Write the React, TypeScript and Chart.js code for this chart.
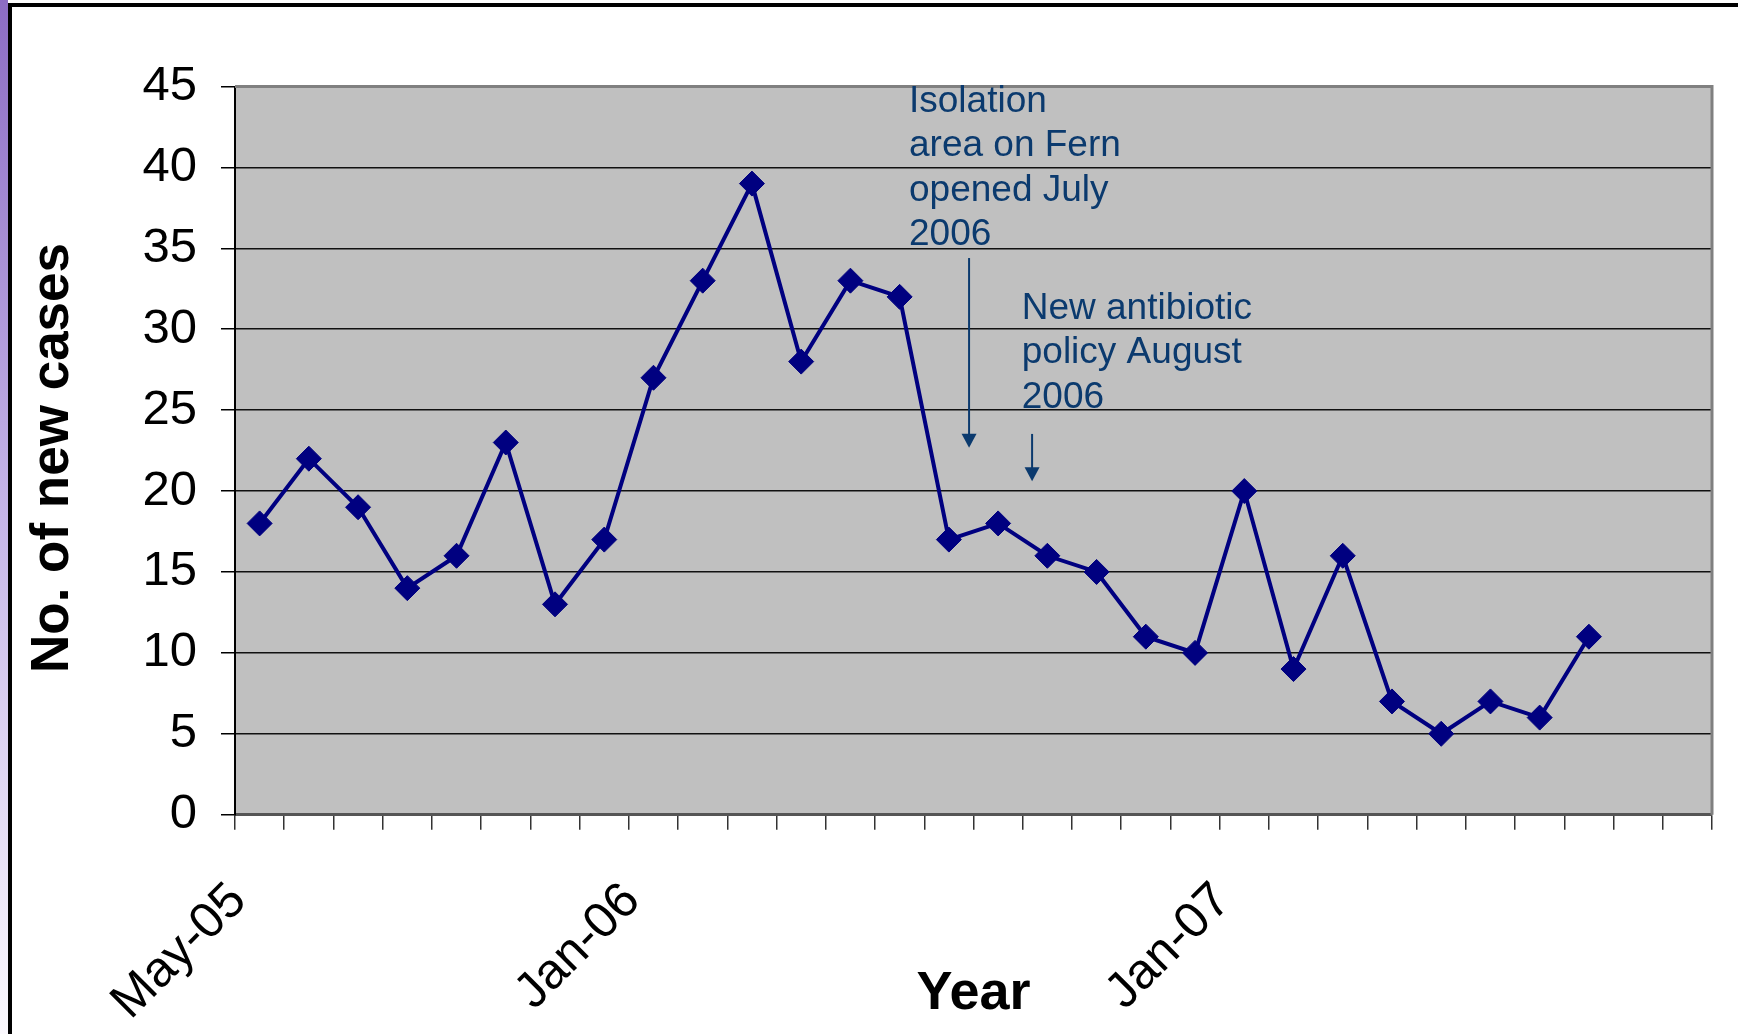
import React, { useEffect, useRef } from 'react';
import { Chart, registerables } from 'chart.js';

Chart.register(...registerables);

// ---- data ----
const months = [
  'May-05', 'Jun-05', 'Jul-05', 'Aug-05', 'Sep-05', 'Oct-05', 'Nov-05', 'Dec-05',
  'Jan-06', 'Feb-06', 'Mar-06', 'Apr-06', 'May-06', 'Jun-06', 'Jul-06', 'Aug-06',
  'Sep-06', 'Oct-06', 'Nov-06', 'Dec-06', 'Jan-07', 'Feb-07', 'Mar-07', 'Apr-07',
  'May-07', 'Jun-07', 'Jul-07', 'Aug-07', 'Sep-07', 'Oct-07',
];
const shownMonthLabels = ['May-05', 'Jan-06', 'Jan-07'];
const newCases = [
  18, 22, 19, 14, 16, 23, 13, 17, 27, 33, 39, 28, 33, 32,
  17, 18, 16, 15, 11, 10, 20, 9, 16, 7, 5, 7, 6, 11,
];
const yMin = 0;
const yMax = 45;
const yStep = 5;

const isolationNote = ['Isolation', 'area on Fern', 'opened July', '2006'];
const antibioticNote = ['New antibiotic', 'policy August', '2006'];

// annotation anchors in data coordinates (category index, value)
const notes = [
  { lines: isolationNote, textX: 13.19, textY: 43.45, arrowX: 14.41, arrowFrom: 34.4, arrowTo: 22.67 },
  { lines: antibioticNote, textX: 15.48, textY: 30.64, arrowX: 15.69, arrowFrom: 23.53, arrowTo: 20.6 },
];

const FONT = "'Liberation Sans', Arial, Helvetica, sans-serif";
const W = 1738;
const H = 1034;
const PLOT_TOP = 86.5;
const PLOT_LEFT = 235;
const PLOT_RIGHT = 1712;
const PLOT_BOTTOM = 814.7;
const LEFT_PAD = 16;

const plotBackground = {
  id: 'plotBackground',
  beforeDraw(chart: any) {
    const { ctx, chartArea } = chart;
    ctx.save();
    ctx.fillStyle = '#C0C0C0';
    ctx.fillRect(chartArea.left, chartArea.top, chartArea.right - chartArea.left, chartArea.bottom - chartArea.top);
    ctx.restore();
  },
  beforeDatasetsDraw(chart: any) {
    const { ctx, chartArea } = chart;
    ctx.save();
    ctx.strokeStyle = '#808080';
    ctx.lineWidth = 3;
    ctx.beginPath();
    ctx.moveTo(chartArea.left, chartArea.top);
    ctx.lineTo(chartArea.right, chartArea.top);
    ctx.lineTo(chartArea.right, chartArea.bottom);
    ctx.stroke();
    ctx.restore();
  },
};

const notesPlugin = {
  id: 'notes',
  afterDraw(chart: any) {
    const { ctx } = chart;
    const xs = chart.scales.x;
    const ys = chart.scales.y;
    ctx.save();
    ctx.fillStyle = '#0B3A6E';
    ctx.strokeStyle = '#0B3A6E';
    ctx.font = `37px ${FONT}`;
    ctx.textAlign = 'left';
    ctx.textBaseline = 'alphabetic';
    notes.forEach((n) => {
      const tx = xs.getPixelForValue(n.textX);
      const ty = ys.getPixelForValue(n.textY);
      n.lines.forEach((line, i) => ctx.fillText(line, tx, ty + i * 44.5));
      const ax = xs.getPixelForValue(n.arrowX);
      const a1 = ys.getPixelForValue(n.arrowFrom);
      const a2 = ys.getPixelForValue(n.arrowTo);
      ctx.lineWidth = 2;
      ctx.beginPath();
      ctx.moveTo(ax, a1);
      ctx.lineTo(ax, a2 - 12);
      ctx.stroke();
      ctx.beginPath();
      ctx.moveTo(ax - 7.5, a2 - 14);
      ctx.lineTo(ax + 7.5, a2 - 14);
      ctx.lineTo(ax, a2);
      ctx.closePath();
      ctx.fill();
    });
    ctx.restore();
  },
};

function CasesChart() {
  const ref = useRef<HTMLCanvasElement | null>(null);
  useEffect(() => {
    if (!ref.current) return;
    const chart = new Chart(ref.current, {
      type: 'line',
      data: {
        labels: months,
        datasets: [
          {
            label: 'No. of new cases',
            data: newCases,
            borderColor: '#000080',
            backgroundColor: '#000080',
            borderWidth: 4,
            pointStyle: 'rectRot',
            pointRadius: 12.5,
            pointBackgroundColor: '#000080',
            pointBorderColor: '#000080',
            pointBorderWidth: 1,
            tension: 0,
            fill: false,
            clip: false as any,
          },
        ],
      },
      options: {
        responsive: false,
        animation: false,
        devicePixelRatio: 1,
        layout: { padding: { top: PLOT_TOP, right: W - PLOT_RIGHT, left: LEFT_PAD, bottom: 0 } },
        plugins: {
          legend: { display: false },
          tooltip: { enabled: false },
        },
        scales: {
          x: {
            type: 'category',
            offset: true,
            afterFit: (s: any) => {
              s.height = H - PLOT_BOTTOM;
              s.paddingLeft = 0;
              s.paddingRight = 0;
            },
            grid: {
              offset: true,
              drawOnChartArea: false,
              drawTicks: true,
              tickLength: 15,
              color: '#333333',
              lineWidth: 1.5,
            },
            border: { display: true, color: '#555555', width: 3 },
            ticks: {
              autoSkip: false,
              maxRotation: 45,
              minRotation: 45,
              padding: 42,
              labelOffset: -21,
              color: '#000000',
              font: { family: FONT, size: 50 },
              callback: (_v: any, i: number) => (shownMonthLabels.includes(months[i]) ? months[i] : ''),
            },
            title: {
              display: true,
              text: 'Year',
              color: '#000000',
              font: { family: FONT, size: 54, weight: 'bold' },
              padding: { top: 0, bottom: 7 },
            },
          },
          y: {
            min: yMin,
            max: yMax,
            afterFit: (s: any) => { s.width = PLOT_LEFT - LEFT_PAD; },
            grid: {
              color: '#111111',
              lineWidth: 1.5,
              tickLength: 14,
              tickColor: '#000000',
            },
            border: { display: true, color: '#000000', width: 2 },
            ticks: {
              stepSize: yStep,
              padding: 24,
              color: '#000000',
              font: { family: FONT, size: 49 },
            },
            title: {
              display: true,
              text: 'No. of new cases ',
              color: '#000000',
              font: { family: FONT, size: 53, weight: 'bold' },
              padding: { top: 5.5, bottom: 0 },
            },
          },
        },
      },
      plugins: [plotBackground, notesPlugin],
    });
    return () => chart.destroy();
  }, []);
  return (
    <canvas
      ref={ref}
      width={W}
      height={H}
      style={{ position: 'absolute', left: 0, top: 0, width: W, height: H }}
    />
  );
}

export default function App() {
  useEffect(() => {
    document.body.style.margin = '0';
    document.body.style.overflow = 'hidden';
  }, []);
  return (
    <div style={{ position: 'relative', width: W, height: H, background: '#ffffff', overflow: 'hidden' }}>
      <div
        style={{
          position: 'absolute', left: 0, top: 0, width: 8, height: H,
          background: 'linear-gradient(to bottom, #8c6cc4 0%, #c6b6e8 50%, #fbf9fe 100%)',
        }}
      />
      <div style={{ position: 'absolute', left: 8, top: 3, width: 4, height: H - 3, background: '#000' }} />
      <div style={{ position: 'absolute', left: 8, top: 3, width: W - 8, height: 4, background: '#000' }} />
      <CasesChart />
    </div>
  );
}
